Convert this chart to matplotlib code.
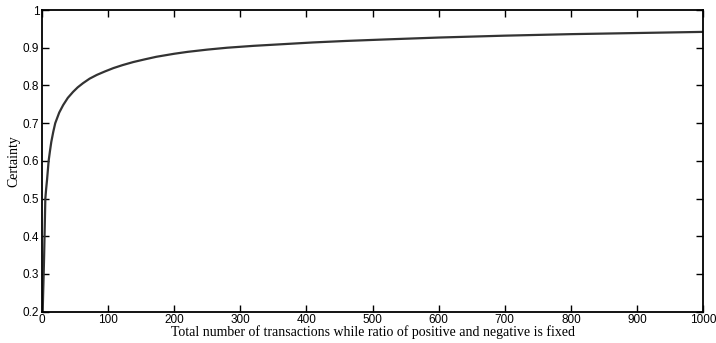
import matplotlib
matplotlib.use("Agg")
import matplotlib.pyplot as plt

# values
n_transactions = [1, 1.7, 2.5, 3.2, 3.8, 4.4, 5, 6.2, 7.6, 8.8, 10, 12, 14,
                  17, 20, 26, 32, 39, 47, 54, 62, 72, 83, 95, 108, 122, 138,
                  155, 173, 200, 220, 250, 280, 320, 360, 410, 460, 520, 600,
                  700, 800, 900, 1000]
certainty = [0.2, 0.25, 0.3, 0.35, 0.4, 0.45, 0.5, 0.525, 0.55, 0.575, 0.6,
             0.626, 0.65, 0.677, 0.70, 0.728, 0.748, 0.767, 0.783, 0.795,
             0.806, 0.818, 0.828, 0.837, 0.846, 0.854, 0.862, 0.869, 0.876,
             0.884, 0.889, 0.895, 0.900, 0.905, 0.909, 0.914, 0.918, 0.922,
             0.927, 0.932, 0.936, 0.939, 0.942]

x_ticks = [0, 100, 200, 300, 400, 500, 600, 700, 800, 900, 1000]
y_ticks = [0.2, 0.3, 0.4, 0.5, 0.6, 0.7, 0.8, 0.9, 1]
y_tick_labels = ["0.2", "0.3", "0.4", "0.5", "0.6", "0.7", "0.8", "0.9", "1"]

fig = plt.figure(figsize=(7.16, 3.43), dpi=100, facecolor="white")
ax = fig.add_axes([0.0587, 0.0913, 0.9233, 0.8795])

ax.plot(n_transactions, certainty, color="#333333", lw=1.6,
        solid_joinstyle="round")

ax.set_xlim(0, 1000)
ax.set_ylim(0.2, 1)
ax.set_xticks(x_ticks)
ax.set_yticks(y_ticks)
ax.set_yticklabels(y_tick_labels)

for lbl in ax.get_xticklabels() + ax.get_yticklabels():
    lbl.set_fontfamily("Liberation Sans")
    lbl.set_fontsize(8.5)

ax.tick_params(direction="in", top=True, right=True, length=5, width=1,
               pad=2)
for s in ax.spines.values():
    s.set_linewidth(1.3)

ax.set_xlabel("Total number of transactions while ratio of positive and negative is fixed",
              family="Liberation Serif", fontsize=10, labelpad=-1)
ax.set_ylabel("Certainty", family="Liberation Serif", fontsize=10, labelpad=2)

fig.savefig("out.png", dpi=100, facecolor="white")
